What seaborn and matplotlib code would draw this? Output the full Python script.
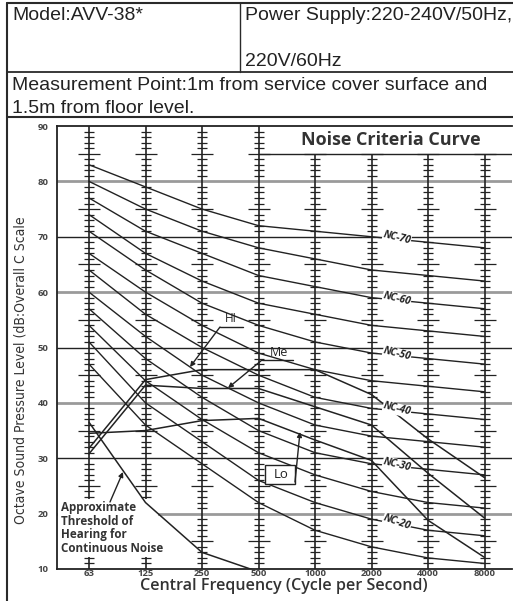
import numpy as np
import pandas as pd
import matplotlib
matplotlib.use("Agg")
import matplotlib.pyplot as plt
import seaborn as sns
from matplotlib.lines import Line2D
from matplotlib.patches import Rectangle

# ---------------- data ----------------
freq_labels = ["63", "125", "250", "500", "1000", "2000", "4000", "8000"]
nc_names = ["NC-15", "NC-20", "NC-25", "NC-30", "NC-35", "NC-40",
            "NC-45", "NC-50", "NC-55", "NC-60", "NC-65", "NC-70"]
nc15 = [47, 36, 29, 22, 17, 14, 12, 11]
nc20 = [51, 40, 33, 26, 22, 19, 17, 16]
nc25 = [54, 44, 37, 31, 27, 24, 22, 21]
nc30 = [57, 48, 41, 35, 31, 29, 28, 27]
nc35 = [60, 52, 45, 40, 36, 34, 33, 32]
nc40 = [64, 56, 50, 45, 41, 39, 38, 37]
nc45 = [67, 60, 54, 49, 46, 44, 43, 42]
nc50 = [71, 64, 58, 54, 51, 49, 48, 47]
nc55 = [74, 67, 62, 58, 56, 54, 53, 52]
nc60 = [77, 71, 67, 63, 61, 59, 58, 57]
nc65 = [80, 75, 71, 68, 66, 64, 63, 62]
nc70 = [83, 79, 75, 72, 71, 70, 69, 68]
nc_labelled = ["NC-70", "NC-60", "NC-50", "NC-40", "NC-30", "NC-20"]

hi_level = [31.8, 44.2, 46.0, 46.0, 46.0, 41.5, 33.5, 26.5]
me_level = [30.8, 43.2, 42.6, 42.6, 39.3, 36.0, 27.3, 19.2]
lo_level = [34.5, 35.0, 36.8, 37.2, 33.3, 29.6, 18.8, 12.1]
threshold_freqs = ["63", "125", "250", "500"]
threshold_level = [36.5, 22.0, 13.0, 9.5]

# ---------------- figure ----------------
W, H = 513, 601
sns.set_style("white")
plt.rcParams["font.family"] = ["Open Sans", "DejaVu Sans"]
fig = plt.figure(figsize=(W / 100, H / 100), dpi=100)
fig.patch.set_facecolor("white")


def fx(x):
    return x / W


def fy(y):
    return 1 - y / H


def fline(xs, ys, lw=1.2, color="#2a2a2a"):
    fig.add_artist(Line2D([fx(v) for v in xs], [fy(v) for v in ys], lw=lw,
                          color=color, transform=fig.transFigure))


# header table
hdr_font = dict(family=["Liberation Sans", "DejaVu Sans"], fontsize=14, color="#222")
fline([7, 513], [3, 3], lw=1.5)
fline([7, 7], [3, 601], lw=1.5)
fline([240, 240], [3, 72], lw=1.0)
fline([7, 513], [72, 72], lw=1.3)
fline([7, 513], [117, 117], lw=1.5)
fig.text(fx(12), fy(15), "Model:AVV-38*", va="center", ha="left", **hdr_font)
fig.text(fx(245), fy(15), "Power Supply:220-240V/50Hz,", va="center", ha="left", **hdr_font)
fig.text(fx(245), fy(61), "220V/60Hz", va="center", ha="left", **hdr_font)
fig.text(fx(12), fy(85), "Measurement Point:1m from service cover surface and",
         va="center", ha="left", **hdr_font)
fig.text(fx(12), fy(108), "1.5m from floor level.", va="center", ha="left", **hdr_font)

# axes
AX_L, AX_R, AX_T, AX_B = 57, 512, 126, 569
X63, OCT = 89.0, 56.5
ax = fig.add_axes([fx(AX_L), fy(AX_B), (AX_R - AX_L) / W, (AX_B - AX_T) / H])
ax.set_xlim((AX_L - X63) / OCT, (AX_R - X63) / OCT)
ax.set_ylim(10, 90)
ax.set_facecolor("white")
for s in ["left", "bottom", "top"]:
    ax.spines[s].set_color("#222")
    ax.spines[s].set_linewidth(1.3)
ax.spines["right"].set_visible(False)

xpos = np.arange(len(freq_labels))
xmax = ax.get_xlim()[1]

# horizontal grid
for v in [20, 40, 60, 80]:
    ax.axhline(v, color="#9a9a9a", lw=2.0, zorder=1)
for v in [30, 50, 70]:
    ax.axhline(v, color="#222", lw=1.0, zorder=1)

# vertical octave lines with ladders
minor = np.array([v for v in range(11, 90) if v % 5 != 0])
major = np.arange(15, 90, 10)
for i, x in enumerate(xpos):
    top = 90 if i <= 3 else 85
    ax.vlines(x, 10, top, color="#222", lw=1.2, zorder=2)
    mi = minor[minor < top]
    ma = major[major <= top]
    ax.plot(np.full(len(mi), x), mi, ls="none", marker="_", ms=7, mew=0.9,
            color="#222", zorder=2)
    ax.plot(np.full(len(ma), x), ma, ls="none", marker="_", ms=16, mew=0.9,
            color="#222", zorder=2)

# title box
ax.hlines(85, 3, xmax, color="#222", lw=1.0, zorder=4)
ax.text(5.34, 87.5, "Noise Criteria Curve", ha="center", va="center",
        fontsize=13, fontweight="bold", color="#333", zorder=5)

# NC curves
nc_values = [nc15, nc20, nc25, nc30, nc35, nc40, nc45, nc50, nc55, nc60, nc65, nc70]
nc_df = pd.DataFrame([
    {"curve": n, "x": xpos[j], "db": vals[j]}
    for n, vals in zip(nc_names, nc_values) for j in range(len(freq_labels))
])
sns.lineplot(data=nc_df, x="x", y="db", units="curve", estimator=None,
             color="#222", linewidth=1.0, legend=False, ax=ax, zorder=3)

lab_x = 5.45
for n, vals in zip(nc_names, nc_values):
    if n in nc_labelled:
        yv = np.interp(lab_x, xpos, vals)
        slope = vals[6] - vals[5]
        ang = np.degrees(np.arctan(slope * 5.53 / OCT)) - 8
        ax.text(lab_x, yv + 0.3, n, ha="center", va="center", fontsize=7.3,
                style="italic", fontweight="bold", color="#222", rotation=ang,
                zorder=6, bbox=dict(facecolor="white", edgecolor="none", pad=0.2))

# measured curves
meas_df = pd.DataFrame(
    [{"curve": "Hi", "x": xpos[j], "db": hi_level[j]} for j in range(8)]
    + [{"curve": "Me", "x": xpos[j], "db": me_level[j]} for j in range(8)]
    + [{"curve": "Lo", "x": xpos[j], "db": lo_level[j]} for j in range(8)]
)
sns.lineplot(data=meas_df, x="x", y="db", units="curve", estimator=None,
             color="#222", linewidth=1.1, legend=False, ax=ax, zorder=3)

# threshold of hearing
thr_df = pd.DataFrame({"x": [freq_labels.index(f) for f in threshold_freqs],
                       "db": threshold_level})
sns.lineplot(data=thr_df, x="x", y="db", color="#222", linewidth=1.1,
             legend=False, ax=ax, zorder=5.5)


def d2(px, py):
    return ((px - X63) / OCT, 90 - (py - AX_T) / ((AX_B - AX_T) / 80))


arrow = dict(arrowstyle="-|>", color="#222", lw=1.0, mutation_scale=7,
             shrinkA=0, shrinkB=0)
# white knock-out behind the threshold note
kx0, ky0 = d2(58, 499)
kx1, ky1 = d2(158, 557)
ax.add_patch(Rectangle((kx0, ky1), kx1 - kx0, ky0 - ky1, facecolor="white",
                       edgecolor="none", zorder=5))
ax.text(*d2(61, 528), "Approximate\nThreshold of\nHearing for\nContinuous Noise",
        ha="left", va="center", fontsize=8.4, fontweight="bold", color="#333",
        linespacing=1.08, zorder=6)
ax.annotate("", xy=d2(123, 472), xytext=d2(110, 502), arrowprops=arrow, zorder=6)

# Hi label
ax.text(*d2(231, 319), "HI", ha="center", va="center", fontsize=8.5, color="#222", zorder=6)
ax.plot(*zip(d2(220, 327), d2(243, 327)), color="#222", lw=1.0, zorder=6)
ax.annotate("", xy=d2(190, 367), xytext=d2(220, 327), arrowprops=arrow, zorder=6)
# Me label
ax.text(*d2(279, 353), "Me", ha="center", va="center", fontsize=9, color="#222", zorder=6)
ax.plot(*zip(d2(262, 360), d2(293, 360)), color="#222", lw=1.0, zorder=6)
ax.annotate("", xy=d2(228, 388), xytext=d2(262, 360), arrowprops=arrow, zorder=6)
# Lo label
ax.text(*d2(281, 474), "Lo", ha="center", va="center", fontsize=9.5, color="#222", zorder=6)
x0, y0 = d2(265, 465)
x1, y1 = d2(295, 484)
ax.add_patch(Rectangle((x0, y1), x1 - x0, y0 - y1, facecolor="white",
                       edgecolor="#222", lw=1.0, zorder=5))
ax.annotate("", xy=d2(300, 432), xytext=d2(295, 482), arrowprops=arrow, zorder=6)

# ticks
ax.set_yticks(range(10, 91, 10))
ax.set_yticklabels([str(v) for v in range(10, 91, 10)], fontsize=6.8,
                   fontweight="bold", color="#444")
ax.set_xticks(xpos)
ax.set_xticklabels(freq_labels, fontsize=6.8, fontweight="bold", color="#444")
ax.tick_params(axis="y", length=0, pad=6)
ax.tick_params(axis="x", length=0, pad=0)
ax.set_xlabel("")
ax.set_ylabel("")

fig.text(fx(284), fy(586), "Central Frequency (Cycle per Second)", ha="center",
         va="center", fontsize=11.6, fontweight="semibold", color="#333")
fig.text(fx(21), fy(370), "Octave Sound Pressure Level (dB:Overall C Scale",
         ha="center", va="center", rotation=90, fontsize=10, color="#333",
         family=["DejaVu Sans"], fontstretch="condensed")

fig.savefig("out.png", dpi=100, facecolor="white")
